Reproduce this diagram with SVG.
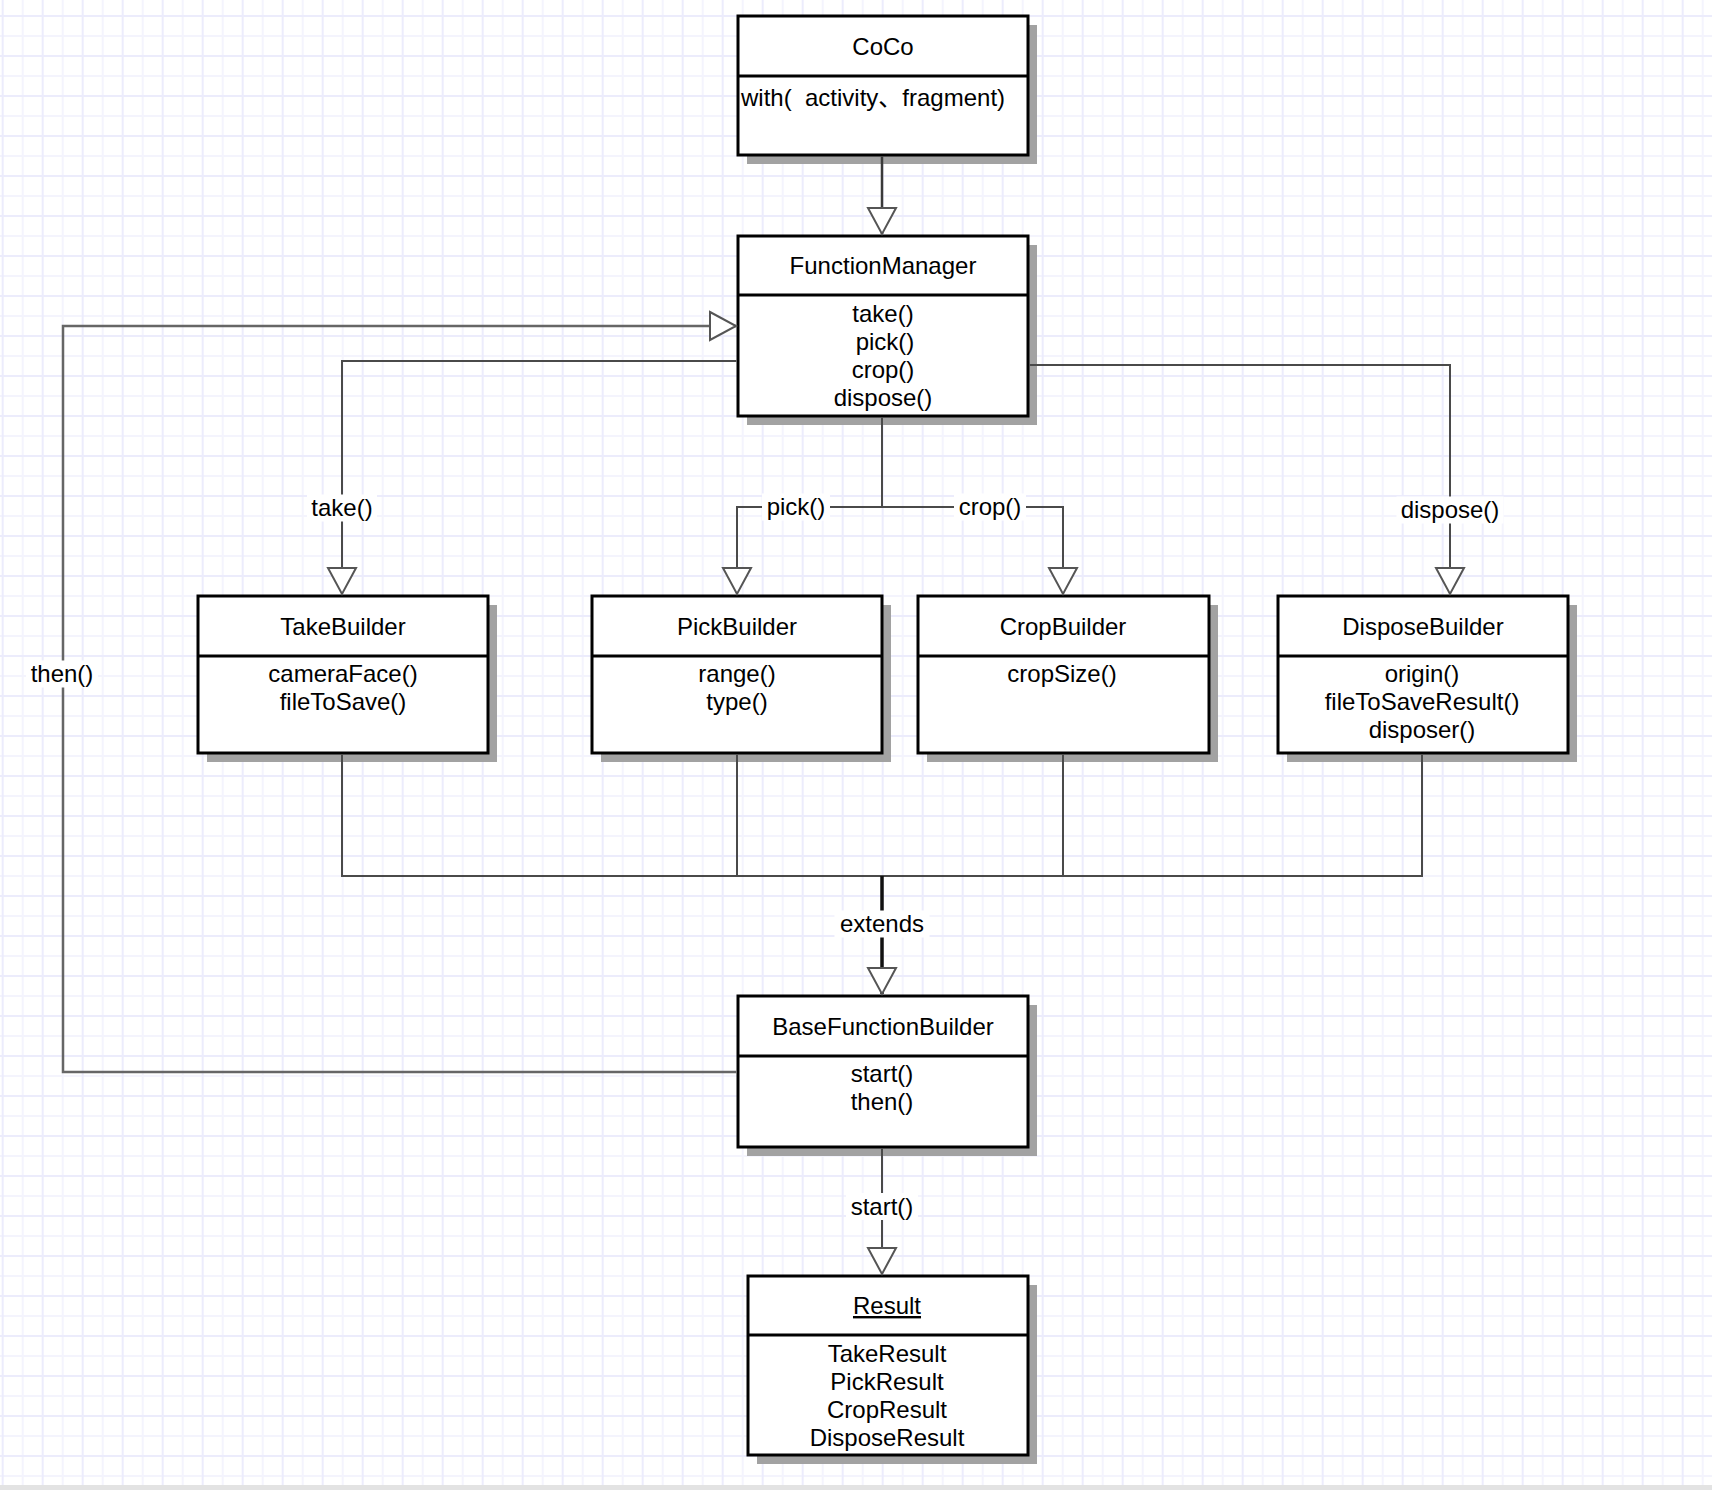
<svg xmlns="http://www.w3.org/2000/svg" width="1712" height="1490" viewBox="0 0 1712 1490">
<defs>
<pattern id="grid" x="1.7" y="15" width="40" height="40" patternUnits="userSpaceOnUse">
<rect width="40" height="40" fill="#ffffff"/>
<path d="M21 0V40M0 21H40" stroke="#f4f4fd" stroke-width="2"/>
<path d="M1 0V40M0 1H40" stroke="#ececfc" stroke-width="2"/>
</pattern>
<marker id="tri" markerUnits="userSpaceOnUse" markerWidth="34" markerHeight="34" refX="27" refY="15" orient="auto" overflow="visible">
<path d="M1,1 L27,15 L1,29 Z" fill="#ffffff" stroke="#555555" stroke-width="2" stroke-linejoin="miter"/>
</marker>
<style>
.box{fill:#ffffff;stroke:#000000;stroke-width:3}
.shadow{fill:#a2a2a2}
.div{stroke:#000000;stroke-width:3}
.t{font-family:"Liberation Sans","Noto Sans CJK SC",Arial,sans-serif;font-size:24px;fill:#000000;text-anchor:middle}
.tl{font-family:"Liberation Sans","Noto Sans CJK SC",Arial,sans-serif;font-size:24px;fill:#000000;white-space:pre}
.edge{fill:none;stroke:#4a4a4a;stroke-width:2}
.thick{stroke:#111111;stroke-width:3.5}
.soft{stroke:#666666;stroke-width:2.5}
.dark{stroke:#3a3a3a;stroke-width:2.5}
.lblbg{fill:#ffffff}
</style>
</defs>
<rect width="1712" height="1490" fill="url(#grid)"/>
<rect x="0" y="1485" width="1712" height="5" fill="#e3e3e3"/>

<g id="coco">
<rect class="shadow" x="747" y="25" width="290" height="139"/>
<rect class="box" x="738" y="16" width="290" height="139"/>
<line class="div" x1="738" y1="76" x2="1028" y2="76"/>
<text class="t" x="883" y="54.5">CoCo</text>
<text class="tl" x="741" y="106">with(  activity、fragment)</text>
</g>

<g id="functionManager">
<rect class="shadow" x="747" y="245" width="290" height="180"/>
<rect class="box" x="738" y="236" width="290" height="180"/>
<line class="div" x1="738" y1="295" x2="1028" y2="295"/>
<text class="t" x="883" y="274">FunctionManager</text>
<text class="t" x="883" y="322">take()</text>
<text class="t" x="885" y="350">pick()</text>
<text class="t" x="883" y="378">crop()</text>
<text class="t" x="883" y="406">dispose()</text>
</g>

<g id="takeBuilder">
<rect class="shadow" x="207" y="605" width="290" height="157"/>
<rect class="box" x="198" y="596" width="290" height="157"/>
<line class="div" x1="198" y1="656" x2="488" y2="656"/>
<text class="t" x="343" y="634.5">TakeBuilder</text>
<text class="t" x="343" y="682">cameraFace()</text>
<text class="t" x="343" y="710">fileToSave()</text>
</g>

<g id="pickBuilder">
<rect class="shadow" x="601" y="605" width="290" height="157"/>
<rect class="box" x="592" y="596" width="290" height="157"/>
<line class="div" x1="592" y1="656" x2="882" y2="656"/>
<text class="t" x="737" y="634.5">PickBuilder</text>
<text class="t" x="737" y="682">range()</text>
<text class="t" x="737" y="710">type()</text>
</g>

<g id="cropBuilder">
<rect class="shadow" x="927" y="605" width="291" height="157"/>
<rect class="box" x="918" y="596" width="291" height="157"/>
<line class="div" x1="918" y1="656" x2="1209" y2="656"/>
<text class="t" x="1063" y="634.5">CropBuilder</text>
<text class="t" x="1062" y="682">cropSize()</text>
</g>

<g id="disposeBuilder">
<rect class="shadow" x="1287" y="605" width="290" height="157"/>
<rect class="box" x="1278" y="596" width="290" height="157"/>
<line class="div" x1="1278" y1="656" x2="1568" y2="656"/>
<text class="t" x="1423" y="634.5">DisposeBuilder</text>
<text class="t" x="1422" y="682">origin()</text>
<text class="t" x="1422" y="710">fileToSaveResult()</text>
<text class="t" x="1422" y="738">disposer()</text>
</g>

<g id="baseFunctionBuilder">
<rect class="shadow" x="747" y="1005" width="290" height="151"/>
<rect class="box" x="738" y="996" width="290" height="151"/>
<line class="div" x1="738" y1="1056" x2="1028" y2="1056"/>
<text class="t" x="883" y="1034.5">BaseFunctionBuilder</text>
<text class="t" x="882" y="1082">start()</text>
<text class="t" x="882" y="1110">then()</text>
</g>

<g id="result">
<rect class="shadow" x="757" y="1285" width="280" height="179"/>
<rect class="box" x="748" y="1276" width="280" height="179"/>
<line class="div" x1="748" y1="1335" x2="1028" y2="1335"/>
<text class="t" x="887" y="1314" text-decoration="underline">Result</text>
<text class="t" x="887" y="1362">TakeResult</text>
<text class="t" x="887" y="1390">PickResult</text>
<text class="t" x="887" y="1418">CropResult</text>
<text class="t" x="887" y="1446">DisposeResult</text>
</g>

<g id="connectors">
<path class="edge dark" d="M882 156.5V234" marker-end="url(#tri)"/>
<path class="edge" d="M736.5 361H342V594" marker-end="url(#tri)"/>
<path class="edge" d="M1029.5 365H1450V594" marker-end="url(#tri)"/>
<path class="edge" d="M882 417.5V507H737V594" marker-end="url(#tri)"/>
<path class="edge" d="M882 507H1063V594" marker-end="url(#tri)"/>
<path class="edge soft" d="M736.5 1072H63V326H736" marker-end="url(#tri)"/>
<path class="edge" d="M342 754.5V876H1422V754.5"/>
<path class="edge" d="M737 754.5V876"/>
<path class="edge" d="M1063 754.5V876"/>
<path class="edge thick" d="M882 876V994" marker-end="url(#tri)"/>
<path class="edge" d="M882 1148.5V1274" marker-end="url(#tri)"/>
<rect class="lblbg" x="307" y="494.5" width="70" height="27"/>
<text class="t" x="342" y="516">take()</text>
<rect class="lblbg" x="762" y="493.5" width="68" height="27"/>
<text class="t" x="796" y="515">pick()</text>
<rect class="lblbg" x="954" y="493.5" width="72" height="27"/>
<text class="t" x="990" y="515">crop()</text>
<rect class="lblbg" x="1396.5" y="496.5" width="107" height="27"/>
<text class="t" x="1450" y="518">dispose()</text>
<rect class="lblbg" x="26" y="660.5" width="72" height="27"/>
<text class="t" x="62" y="682">then()</text>
<rect class="lblbg" x="834.5" y="910.5" width="95" height="27"/>
<text class="t" x="882" y="932">extends</text>
<rect class="lblbg" x="846" y="1193" width="72" height="27"/>
<text class="t" x="882" y="1214.5">start()</text>
</g>
</svg>
